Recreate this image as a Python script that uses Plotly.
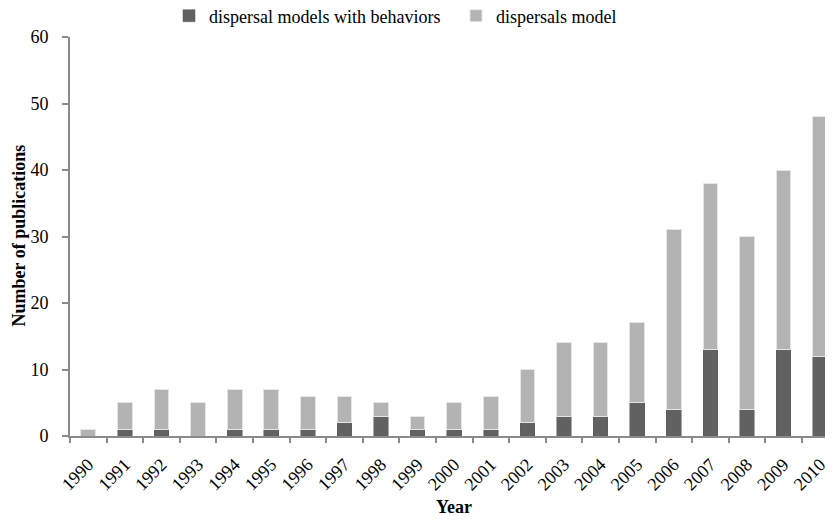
import plotly.graph_objects as go

years = [str(y) for y in range(1990, 2011)]
with_behaviors = [0, 1, 1, 0, 1, 1, 1, 2, 3, 1, 1, 1, 2, 3, 3, 5, 4, 13, 4, 13, 12]
dispersal_only = [1, 4, 6, 5, 6, 6, 5, 4, 2, 2, 4, 5, 8, 11, 11, 12, 27, 25, 26, 27, 36]

font = "Liberation Serif"
axis_col = "#8a8a8a"

fig = go.Figure()
fig.add_trace(go.Bar(x=years, y=with_behaviors, name="dispersal models with behaviors",
                     marker=dict(color="#616161", line=dict(color="#5a5a5a", width=0.5))))
fig.add_trace(go.Bar(x=years, y=dispersal_only, name="dispersals model",
                     marker=dict(color="#b3b3b3", line=dict(color="#e6e6e6", width=1))))

# page body has an 8px default margin, so the figure is sized to fit the window
W, H = 825, 512
L, T, B, R = 62, 29, 84, 0
pw = W - L - R
ph = H - T - B
base = H - B  # y pixel of value 0

fig.update_layout(
    barmode="stack",
    bargap=0.6,
    width=W, height=H,
    margin=dict(l=L, r=R, t=T, b=B, pad=0, autoexpand=False),
    plot_bgcolor="white", paper_bgcolor="white",
    font=dict(family=font, size=18, color="black"),
    showlegend=True,
    legend=dict(orientation="h", x=(161 - L) / pw, xanchor="left",
                yref="paper", y=(base + 10.5) / ph, yanchor="top",
                font=dict(family=font, size=18, color="black"),
                itemwidth=30, traceorder="normal",
                entrywidth=242, entrywidthmode="pixels",
                bgcolor="rgba(0,0,0,0)", borderwidth=0),
    xaxis=dict(
        type="category", range=[-0.5, 20.35], automargin=False,
        tickangle=-45, showline=True, linecolor=axis_col, linewidth=2,
        ticks="outside", tickson="boundaries", ticklen=5, tickwidth=1.5, tickcolor=axis_col,
        tickfont=dict(family=font, size=18), ticklabelstandoff=9,
    ),
    yaxis=dict(
        range=[0, 60], dtick=10, showgrid=False, zeroline=False, automargin=False,
        showline=True, linecolor=axis_col, linewidth=2,
        ticks="outside", ticklen=6, tickwidth=1.5, tickcolor=axis_col,
        tickfont=dict(family=font, size=18), ticklabelstandoff=10,
    ),
    annotations=[
        dict(text="<b>Number of publications</b>", textangle=-90,
             xref="paper", yref="paper", x=(10.5 - L) / pw, y=(base - 228) / ph,
             xanchor="center", yanchor="middle", showarrow=False,
             font=dict(family=font, size=18, color="black")),
        dict(text="<b>Year</b>",
             xref="paper", yref="paper", x=(446 - L) / pw, y=(base - 498.5) / ph,
             xanchor="center", yanchor="middle", showarrow=False,
             font=dict(family=font, size=18, color="black")),
    ],
)

fig.write_html("out.html")
